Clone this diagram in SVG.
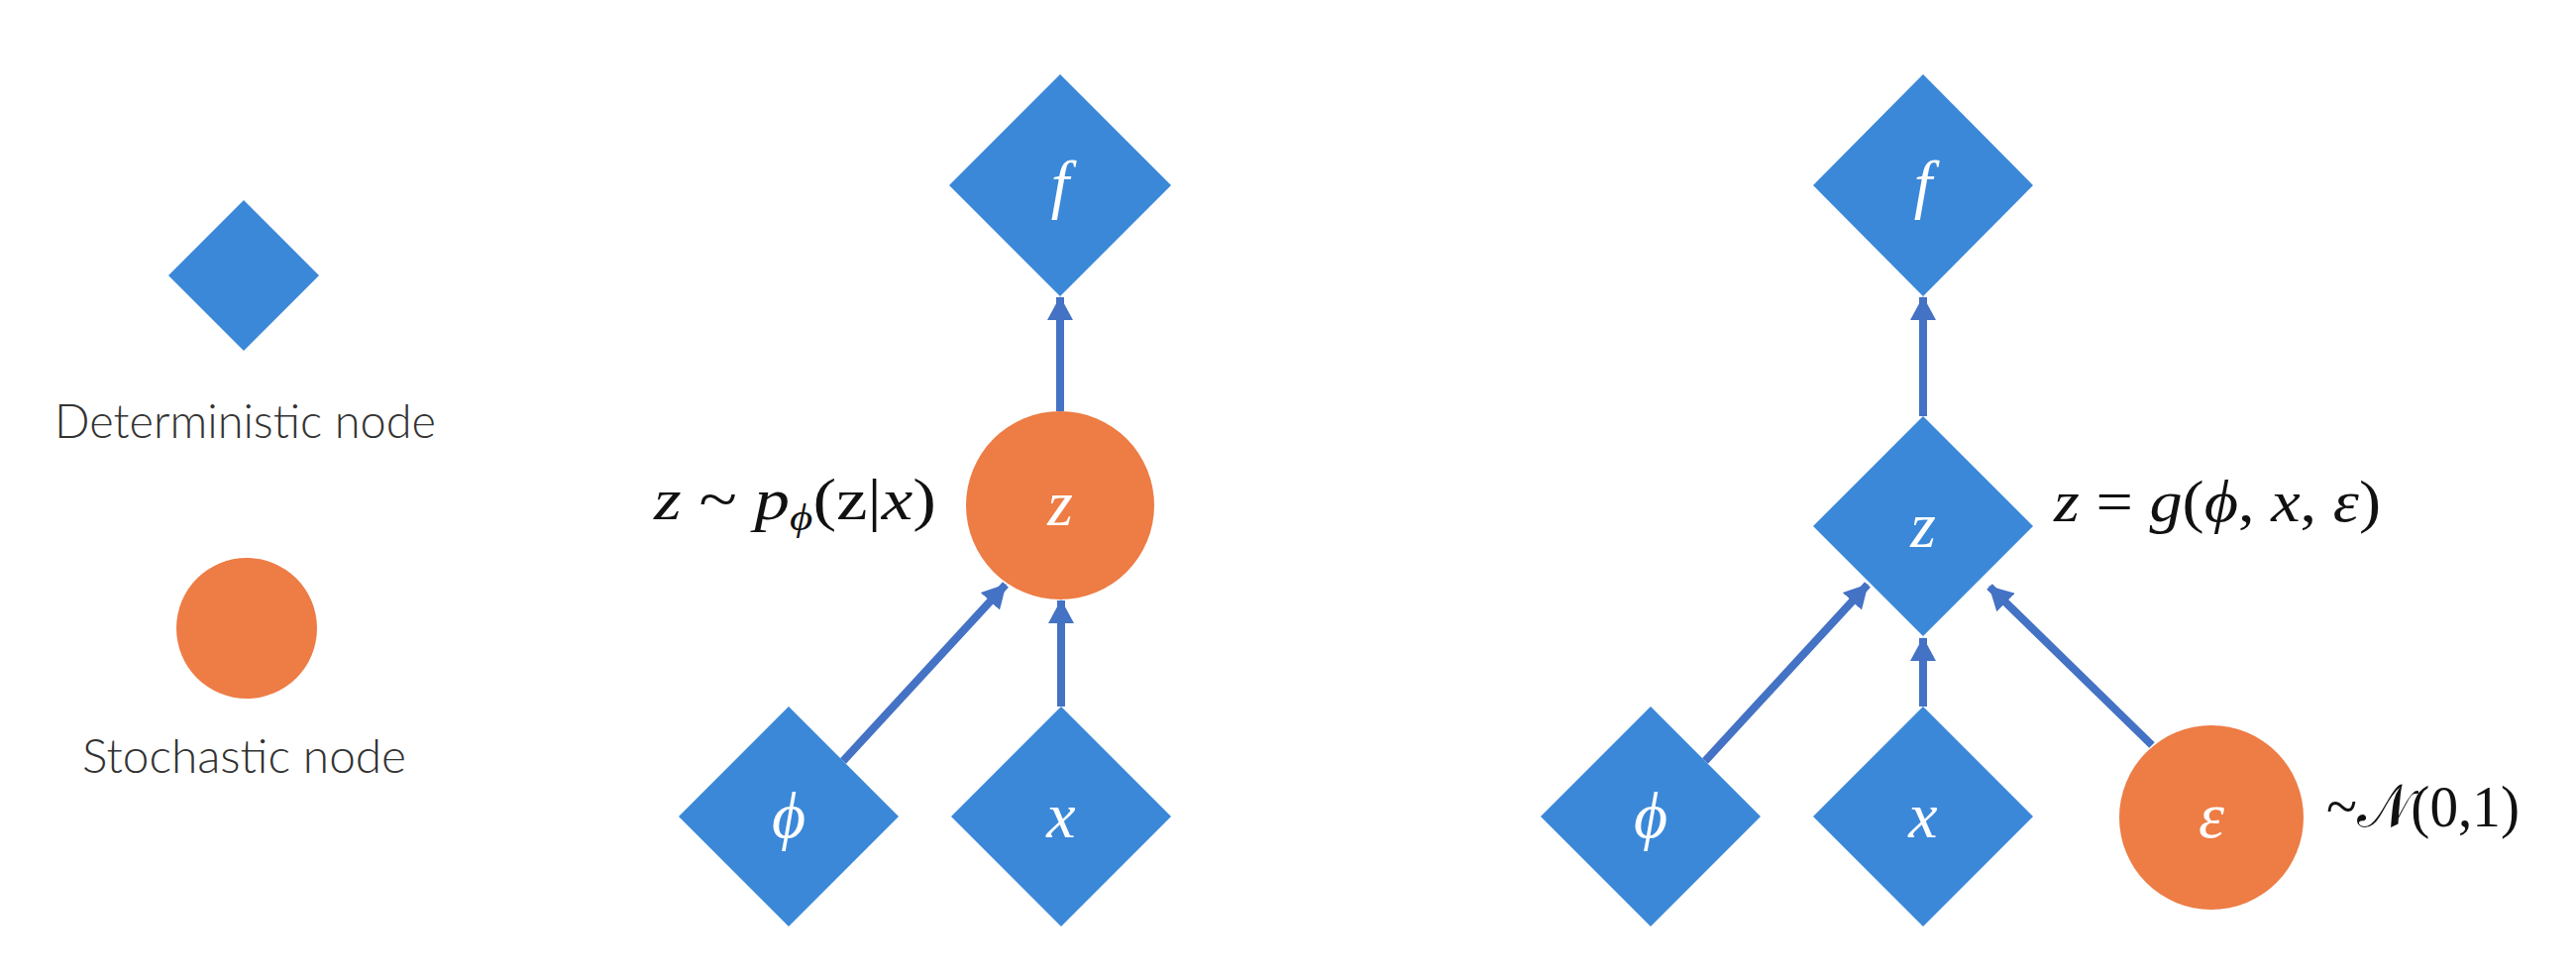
<svg xmlns="http://www.w3.org/2000/svg" width="2600" height="988" viewBox="0 0 2600 988">
<style>
.det{fill:#3B88D8}
.sto{fill:#ED7C45}
.lbl{fill:#FFFFFF;font-family:"Liberation Serif","DejaVu Serif",serif;font-style:italic;font-size:66px;text-anchor:middle}
.math{fill:#111111;font-family:"Liberation Serif","DejaVu Serif",serif;font-size:60px}
.it{font-style:italic}
.leg{fill:#333333;font-family:Lato,"Open Sans","Liberation Sans",sans-serif;font-weight:300;font-size:48px}
.edge{stroke:#4472C4;stroke-width:8;fill:none;marker-end:url(#ah)}
</style>
<defs>
<marker id="ah" markerUnits="userSpaceOnUse" viewBox="0 0 24 26" markerWidth="24" markerHeight="26" refX="23" refY="13" orient="auto">
<path d="M0,0 L24,13 L0,26 Z" fill="#4472C4"/>
</marker>
</defs>
<rect width="2600" height="988" fill="#FFFFFF"/>
<g id="legend-deterministic">
<polygon class="det" points="246,202 322,278 246,354 170,278"/>
<text class="leg" x="55" y="442" textLength="385" lengthAdjust="spacingAndGlyphs">Deterministic node</text>
</g>
<g id="legend-stochastic">
<circle class="sto" cx="249" cy="634" r="71"/>
<text class="leg" x="83" y="780" textLength="327" lengthAdjust="spacingAndGlyphs">Stochastic node</text>
</g>
<g id="connectors">
<line class="edge" x1="1070" y1="415" x2="1070" y2="300"/>
<line class="edge" x1="1071" y1="713" x2="1071" y2="606"/>
<line class="edge" x1="851" y1="768" x2="1015" y2="590"/>
<line class="edge" x1="1941" y1="420" x2="1941" y2="300"/>
<line class="edge" x1="1941" y1="713" x2="1941" y2="644"/>
<line class="edge" x1="1721" y1="768" x2="1885" y2="590"/>
<line class="edge" x1="2172" y1="752" x2="2008" y2="592"/>
</g>
<g id="mid-f">
<polygon class="det" points="1070,75 1182,187 1070,299 958,187"/>
<text class="lbl" x="1070" y="208">f</text>
</g>
<g id="mid-z">
<circle class="sto" cx="1070" cy="510" r="95"/>
<text class="lbl" x="1070" y="530">z</text>
</g>
<g id="mid-phi">
<polygon class="det" points="796,713 907,824 796,935 685,824"/>
<text class="lbl" x="796" y="845">ϕ</text>
</g>
<g id="mid-x">
<polygon class="det" points="1071,713 1182,824 1071,935 960,824"/>
<text class="lbl" x="1071" y="845">x</text>
</g>
<g id="mid-label">
<text class="math" x="660" y="524" textLength="285" lengthAdjust="spacingAndGlyphs"><tspan class="it">z</tspan> ~ <tspan class="it">p</tspan><tspan class="it" font-size="38" dy="11">ϕ</tspan><tspan dy="-11">(z|</tspan><tspan class="it">x</tspan>)</text>
</g>
<g id="right-f">
<polygon class="det" points="1941,75 2052,187 1941,299 1830,187"/>
<text class="lbl" x="1941" y="208">f</text>
</g>
<g id="right-z">
<polygon class="det" points="1941,420 2052,531 1941,642 1830,531"/>
<text class="lbl" x="1941" y="552">z</text>
</g>
<g id="right-phi">
<polygon class="det" points="1666,713 1777,824 1666,935 1555,824"/>
<text class="lbl" x="1666" y="845">ϕ</text>
</g>
<g id="right-x">
<polygon class="det" points="1941,713 2052,824 1941,935 1830,824"/>
<text class="lbl" x="1941" y="845">x</text>
</g>
<g id="right-eps">
<circle class="sto" cx="2232" cy="825" r="93"/>
<text class="lbl" x="2232" y="845">ε</text>
</g>
<g id="right-label">
<text class="math" x="2073" y="526" textLength="330" lengthAdjust="spacingAndGlyphs"><tspan class="it">z</tspan> = <tspan class="it">g</tspan>(<tspan class="it">ϕ</tspan>, <tspan class="it">x</tspan>, <tspan class="it">ε</tspan>)</text>
</g>
<g id="noise-label">
<text class="math" x="2348" y="834" textLength="195" lengthAdjust="spacingAndGlyphs">~𝒩(0,1)</text>
</g>
</svg>
